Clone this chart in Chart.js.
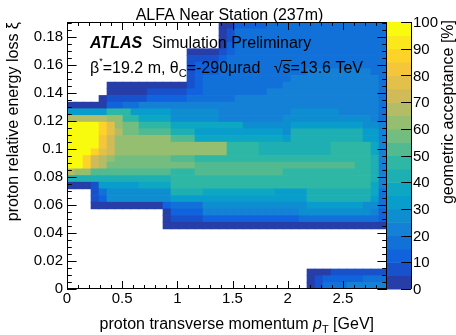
<!DOCTYPE html>
<html>
<head>
<meta charset="utf-8">
<title>ALFA Near Station acceptance</title>
<script src="https://cdn.jsdelivr.net/npm/chart.js@4.4.0/dist/chart.umd.min.js"></script>
<style>
  html, body { margin: 0; padding: 0; background: #fff; }
</style>
</head>
<body>
<canvas id="myChart" width="456" height="335"></canvas>
<script>
const FONT = '"Liberation Sans", Arial, Helvetica, sans-serif';

// Binning: 40 pT bins of 0.0725 GeV (0 - 2.9 GeV), xi bins of 0.2/42 (40 shown)
const ptBinWidth = 0.0725;
const xiBinWidth = 0.2 / 42;
const ptTicks = [0, 0.5, 1, 1.5, 2, 2.5];
const xiTicks = [0, 0.02, 0.04, 0.06, 0.08, 0.1, 0.12, 0.14, 0.16, 0.18];
const zTicks = [0, 10, 20, 30, 40, 50, 60, 70, 80, 90, 100];

// Geometric acceptance [%] per cell, top row (highest xi) first, E = empty bin
const E = null;
const acceptance = [
  [E,E,E,E,E,E,E,E,E,E,E,E,E,E,E,E,E,E,E, 2, 2,12,12,12,12,17,17,17,17,17,17,17,17,17,17,17,17,17,17,17],
  [E,E,E,E,E,E,E,E,E,E,E,E,E,E,E,E,E,E,E, 2, 7,17,17,17,17,17,17,17,17,17,17,17,17,17,17,17,17,17,17,17],
  [E,E,E,E,E,E,E,E,E,E,E,E,E,E,E,E,E,E,E, 2, 7,17,17,17,17,17,17,17,17,17,17,17,17,17,17,17,17,17,17,17],
  [E,E,E,E,E,E,E,E,E,E,E,E,E,E,E,E,E,E,E, 2,12,17,17,17,17,17,17,17,17,17,17,17,17,17,17,17,17,17,17,17],
  [E,E,E,E,E,E,E,E,E,E,E,E,E,E,E, 2, 2, 2, 2, 7,12,17,17,17,17,17,17,17,17,17,17,17,17,17,17,17,17,17,17,17],
  [E,E,E,E,E,E,E,E,E,E,E,E,E,E,E, 7, 7, 7, 7,12,17,17,17,17,17,17,17,17,17,17,17,17,17,17,17,17,17,17,17,17],
  [E,E,E,E,E,E,E,E,E,E,E,E,E,E,E, 7,12,12,12,17,17,17,17,17,17,17,17,17,17,17,17,17,17,17,17,17,17,17,17,17],
  [E,E,E,E,E,E,E,E,E,E,E,E,E,E,E, 7,12,12,12,17,17,17,17,17,17,17,17,17,17,17,22,22,22,22,22,22,22,22,17,17],
  [E,E,E,E,E,E,E,E,E,E,E,E,E,E,E, 7,12,17,17,17,17,17,17,17,17,17,17,17,22,22,22,22,22,22,22,22,22,22,22,17],
  [E,E,E,E,E, 2, 2, 2, 2, 2, 2, 2, 2, 2, 2, 7,12,17,17,17,17,17,17,17,17,17,17,22,22,22,22,22,22,22,22,22,22,22,22,17],
  [E,E,E,E,E, 2, 2, 2, 2, 2, 7, 7, 7, 7, 7,12,12,17,17,17,17,17,17,17,17,22,22,22,22,22,22,22,22,22,22,22,22,22,22,17],
  [E,E,E,E, 2, 7, 7, 7, 7, 7,12,12,12,12,12,17,17,17,17,17,17,22,22,22,22,22,22,22,22,22,22,22,22,22,22,22,22,22,22,17],
  [ 2, 2, 2, 2, 2,12,12,17,17,22,22,22,22,22,22,22,22,22,22,22,22,22,22,22,22,22,22,22,22,22,22,22,22,22,22,22,22,22,22,17],
  [32,32,32,32,32,47,47,47,32,32,32,32,32,27,27,27,27,27,27,22,22,22,22,22,22,22,22,22,27,27,27,27,27,27,22,22,22,22,22,17],
  [67,67,67,67,67,62,62,47,47,37,37,37,37,27,27,27,27,27,27,22,22,22,22,22,22,22,22,27,27,27,27,27,27,27,27,27,27,27,22,17],
  [97,97,97,97,87,77,62,57,57,47,47,47,47,37,37,37,37,37,37,37,37,37,27,27,27,27,27,27,32,32,32,32,32,32,32,32,32,27,27,22],
  [97,97,97,97,87,77,67,57,57,52,52,52,52,42,42,42,32,32,32,32,32,32,32,32,32,32,32,27,42,42,42,42,42,42,42,42,42,32,32,22],
  [97,97,97,97,82,72,62,62,62,62,62,62,62,52,52,52,37,37,37,37,37,37,37,37,37,37,37,32,42,42,42,42,42,42,42,42,42,32,32,22],
  [97,97,97,97,82,72,62,62,62,62,62,62,62,62,62,62,62,62,62,62,47,47,47,47,42,42,42,42,42,42,42,42,42,47,47,47,47,47,37,22],
  [97,97,97,87,77,72,62,62,62,62,62,62,62,62,62,62,62,62,62,62,47,47,47,47,42,42,42,42,42,42,42,42,42,47,47,47,47,47,37,22],
  [97,97,87,72,67,62,57,57,57,57,57,57,57,52,52,52,47,47,47,47,47,47,47,47,47,47,47,47,47,47,47,47,47,47,47,47,47,47,42,22],
  [97,97,87,72,67,57,57,57,57,57,57,57,57,57,57,57,52,52,52,52,52,52,52,52,52,52,52,52,52,52,52,52,52,52,52,52,47,47,42,22],
  [67,62,62,52,52,52,52,52,52,52,52,52,52,47,47,47,52,52,52,52,52,52,52,52,52,52,52,47,47,47,47,47,47,47,47,47,47,47,42,22],
  [42,42,42,42,42,42,42,42,42,42,42,42,42,47,47,47,47,47,47,47,47,47,47,47,47,47,47,47,47,47,47,47,47,47,47,47,47,47,42,22],
  [ 2, 2, 2, 7,32,32,32,32,32,37,37,37,37,47,47,47,47,47,47,47,47,47,47,47,47,47,47,47,47,47,47,47,47,47,47,47,47,47,37,22],
  [E,E,E, 7,17,27,27,27,27,27,27,27,27,42,42,42,42,37,37,37,37,37,37,37,37,37,32,32,32,32,42,42,42,42,42,42,42,42,37,17],
  [E,E,E, 7,12,27,27,27,27,27,27,27,27,32,32,32,32,32,32,32,32,32,32,32,32,32,32,32,32,32,42,42,42,42,42,42,42,42,32,17],
  [E,E,E, 2, 2, 2, 2, 2, 2, 2, 2, 2,12,17,17,17,17,27,27,27,27,27,27,27,27,27,27,27,27,27,32,32,32,32,32,32,32,27,27,17],
  [E,E,E,E,E,E,E,E,E,E,E,E, 2,12,12,12,12,22,22,22,22,22,22,22,22,22,22,22,22,27,27,27,27,27,27,27,27,27,22,12],
  [E,E,E,E,E,E,E,E,E,E,E,E, 2, 7, 7, 7, 7,12,12,12,12,12,12,12,12,12,12,12,12,17,17,17,17,17,17,17,17,17,17,12],
  [E,E,E,E,E,E,E,E,E,E,E,E, 2, 2, 2, 2, 2, 2, 2, 2, 2, 2, 2, 2, 2, 2, 2, 2, 2, 2, 2, 2, 2, 2, 2, 2, 2, 2, 2, 2],
  [E,E,E,E,E,E,E,E,E,E,E,E,E,E,E,E,E,E,E,E,E,E,E,E,E,E,E,E,E,E,E,E,E,E,E,E,E,E,E,E],
  [E,E,E,E,E,E,E,E,E,E,E,E,E,E,E,E,E,E,E,E,E,E,E,E,E,E,E,E,E,E,E,E,E,E,E,E,E,E,E,E],
  [E,E,E,E,E,E,E,E,E,E,E,E,E,E,E,E,E,E,E,E,E,E,E,E,E,E,E,E,E,E,E,E,E,E,E,E,E,E,E,E],
  [E,E,E,E,E,E,E,E,E,E,E,E,E,E,E,E,E,E,E,E,E,E,E,E,E,E,E,E,E,E,E,E,E,E,E,E,E,E,E,E],
  [E,E,E,E,E,E,E,E,E,E,E,E,E,E,E,E,E,E,E,E,E,E,E,E,E,E,E,E,E,E,E,E,E,E,E,E,E,E,E,E],
  [E,E,E,E,E,E,E,E,E,E,E,E,E,E,E,E,E,E,E,E,E,E,E,E,E,E,E,E,E,E,E,E,E,E,E,E,E,E,E,E],
  [E,E,E,E,E,E,E,E,E,E,E,E,E,E,E,E,E,E,E,E,E,E,E,E,E,E,E,E,E,E, 2, 2, 2, 7, 7, 7, 7, 7, 7, 7],
  [E,E,E,E,E,E,E,E,E,E,E,E,E,E,E,E,E,E,E,E,E,E,E,E,E,E,E,E,E,E, 2, 7,12,12,12,12,12,17,17,17],
  [E,E,E,E,E,E,E,E,E,E,E,E,E,E,E,E,E,E,E,E,E,E,E,E,E,E,E,E,E,E, 2, 7,17,17,17,22,22,22,22,22]
];

// ROOT kBird palette, 20 contour levels
const birdStops = [0.0000, 0.1250, 0.2500, 0.3750, 0.5000, 0.6250, 0.7500, 0.8750, 1.0000];
const birdRed   = [0.2082, 0.0592, 0.0780, 0.0232, 0.1802, 0.5301, 0.8186, 0.9956, 0.9764];
const birdGreen = [0.1664, 0.3599, 0.5041, 0.6419, 0.7178, 0.7492, 0.7328, 0.7862, 0.9832];
const birdBlue  = [0.5293, 0.8684, 0.8385, 0.7914, 0.6425, 0.4662, 0.3499, 0.1968, 0.0539];
const nLevels = 20;

function birdColor(t) {
    let k = 1;
    while (k < birdStops.length - 1 && t > birdStops[k]) k++;
    const f = (t - birdStops[k - 1]) / (birdStops[k] - birdStops[k - 1]);
    const c = (arr) => Math.round(255 * (arr[k - 1] + f * (arr[k] - arr[k - 1])));
    return 'rgb(' + c(birdRed) + ',' + c(birdGreen) + ',' + c(birdBlue) + ')';
}
function levelColor(level) {
    const idx = Math.floor((level + 0.99) * 255 / nLevels);
    return birdColor(Math.min(idx, 254) / 254);
}
function valueColor(v) {
    const level = Math.max(0, Math.min(nLevels - 1, Math.floor(v / (100 / nLevels))));
    return levelColor(level);
}

// one floating-bar dataset per xi row
const rowsBottomUp = acceptance.slice().reverse();
const datasets = rowsBottomUp.map((row, r) => {
    const pts = [];
    const colors = [];
    row.forEach((v, c) => {
        if (v === null) return;
        pts.push({ x: (c + 0.5) * ptBinWidth, y: [r * xiBinWidth, (r + 1) * xiBinWidth], v: v });
        colors.push(valueColor(v));
    });
    return {
        label: 'xi bin ' + r,
        data: pts,
        backgroundColor: colors,
        borderWidth: 0,
        grouped: false,
        barPercentage: 1,
        categoryPercentage: 1
    };
});

const fmt = (v) => String(Math.round(v * 1000) / 1000);

function drawParts(ctx, parts, x0, base, align) {
    let total = 0;
    parts.forEach((p) => { ctx.font = p.f; p.w = ctx.measureText(p.t).width; total += p.w; });
    let cx = align === 'right' ? x0 - total : x0;
    ctx.textAlign = 'left';
    ctx.textBaseline = 'alphabetic';
    ctx.fillStyle = '#000';
    parts.forEach((p) => {
        ctx.font = p.f;
        ctx.fillText(p.t, cx, base + p.dy);
        if (p.over) {
            ctx.beginPath();
            ctx.lineWidth = 1;
            ctx.moveTo(cx - 1, base - 12.5);
            ctx.lineTo(cx + p.w + 1, base - 12.5);
            ctx.stroke();
        }
        cx += p.w;
    });
}

// Ticks inside the frame, colour bar and the texts drawn on top
const decorPlugin = {
    id: 'decor',
    afterDatasetsDraw(chart) {
        const { ctx, chartArea: a, scales: { x, y } } = chart;
        ctx.save();
        ctx.strokeStyle = '#000';
        ctx.lineWidth = 1;

        // frame
        ctx.strokeRect(Math.round(a.left) + 0.5, Math.round(a.top) + 0.5,
            Math.round(a.right - a.left) - 1, Math.round(a.bottom - a.top) - 1);

        ctx.beginPath();
        // x ticks (bottom and top)
        for (let t = 0; t <= 2.9 + 1e-9; t += 0.1) {
            const major = Math.abs(t / 0.5 - Math.round(t / 0.5)) < 1e-6;
            const len = major ? 8 : 4;
            const px = Math.round(x.getPixelForValue(t)) + 0.5;
            ctx.moveTo(px, a.bottom); ctx.lineTo(px, a.bottom - len);
            ctx.moveTo(px, a.top); ctx.lineTo(px, a.top + len);
        }
        // y ticks (left and right)
        for (let t = 0; t <= 0.19 + 1e-9; t += 0.005) {
            const major = Math.abs(t / 0.02 - Math.round(t / 0.02)) < 1e-6;
            const len = major ? 9.6 : 4.8;
            const py = Math.round(y.getPixelForValue(t)) + 0.5;
            ctx.moveTo(a.left, py); ctx.lineTo(a.left + len, py);
            ctx.moveTo(a.right, py); ctx.lineTo(a.right - len, py);
        }
        ctx.stroke();

        // colour bar
        const cbL = a.right, cbR = a.right + 24;
        const H = a.bottom - a.top;
        for (let i = 0; i < nLevels; i++) {
            const y0 = a.bottom - (i / nLevels) * H;
            const y1 = a.bottom - ((i + 1) / nLevels) * H;
            ctx.fillStyle = levelColor(i);
            ctx.fillRect(cbL, y1, cbR - cbL, y0 - y1 + 0.5);
        }
        ctx.beginPath();
        ctx.moveTo(cbR + 0.5, a.top); ctx.lineTo(cbR + 0.5, a.bottom);
        zTicks.forEach((z) => {
            const py = Math.round(a.bottom - (z / 100) * H) + 0.5;
            ctx.moveTo(cbR, py); ctx.lineTo(cbR - 10, py);
        });
        ctx.stroke();
        ctx.fillStyle = '#000';
        ctx.font = '15px ' + FONT;
        ctx.textAlign = 'left';
        ctx.textBaseline = 'middle';
        zTicks.forEach((z) => {
            ctx.fillText(String(z), cbR + 2, a.bottom - (z / 100) * H + 1);
        });
        // colour bar title
        ctx.save();
        ctx.translate(449, a.top - 2);
        ctx.rotate(-Math.PI / 2);
        ctx.textAlign = 'right';
        ctx.font = '16px ' + FONT;
        ctx.fillText('geometric acceptance [%]', 0, 0);
        ctx.restore();

        // histogram title
        ctx.textAlign = 'center';
        ctx.textBaseline = 'alphabetic';
        ctx.font = '16px ' + FONT;
        ctx.fillText('ALFA Near Station (237m)', 229.5, 20);

        // x axis title with p_T
        const parts = [
            { t: 'proton transverse momentum ', f: '16px ' + FONT, dy: 0 },
            { t: 'p', f: 'italic 16px ' + FONT, dy: 0 },
            { t: 'T', f: '11px ' + FONT, dy: 4 },
            { t: ' [GeV]', f: '16px ' + FONT, dy: 0 }
        ];
        drawParts(ctx, parts, 374, 329, 'right');

        // ATLAS label
        ctx.textAlign = 'left';
        ctx.font = 'italic bold 16px ' + FONT;
        ctx.fillText('ATLAS', 90, 48);
        ctx.font = '16px ' + FONT;
        ctx.fillText('Simulation Preliminary', 152, 48);

        const line2 = [
            { t: 'β', f: '16px ' + FONT, dy: 0 },
            { t: '*', f: '9px ' + FONT, dy: -9 },
            { t: '=19.2 m, θ', f: '16px ' + FONT, dy: 0 },
            { t: 'C', f: '11px ' + FONT, dy: 4 },
            { t: '=-290μrad   ', f: '16px ' + FONT, dy: 0 },
            { t: '√', f: '16px ' + FONT, dy: 0 },
            { t: 's', f: '16px ' + FONT, dy: 0, over: true },
            { t: '=13.6 TeV', f: '16px ' + FONT, dy: 0 }
        ];
        drawParts(ctx, line2, 90, 73, 'left');
        ctx.restore();
    }
};

const config = {
    type: 'bar',
    data: { datasets: datasets },
    options: {
        responsive: false,
        devicePixelRatio: 1,
        animation: false,
        events: [],
        layout: { padding: { left: 0, right: 69, top: 22, bottom: 0 } },
        datasets: { bar: { grouped: false } },
        plugins: {
            legend: { display: false },
            tooltip: { enabled: false },
            title: { display: false }
        },
        scales: {
            x: {
                type: 'linear',
                min: 0,
                max: 2.9,
                offset: false,
                grid: { display: false, drawTicks: false },
                border: { display: false },
                ticks: {
                    stepSize: 0.5,
                    includeBounds: false,
                    padding: 1,
                    maxRotation: 0,
                    autoSkip: false,
                    color: '#000',
                    font: { family: FONT, size: 15 },
                    callback: (v) => ptTicks.some((t) => Math.abs(t - v) < 1e-6) ? fmt(v) : null
                },
                afterFit: (s) => { s.height = 46; }
            },
            y: {
                type: 'linear',
                min: 0,
                max: 40 * xiBinWidth,
                grid: { display: false, drawTicks: false },
                border: { display: false },
                ticks: {
                    stepSize: 0.02,
                    includeBounds: false,
                    padding: 4,
                    autoSkip: false,
                    color: '#000',
                    font: { family: FONT, size: 15 },
                    callback: (v) => xiTicks.some((t) => Math.abs(t - v) < 1e-6) ? fmt(v) : null
                },
                title: {
                    display: true,
                    text: 'proton relative energy loss ξ',
                    align: 'end',
                    color: '#000',
                    font: { family: FONT, size: 16 },
                    padding: { top: 4, bottom: 0 }
                },
                afterFit: (s) => { s.width = 67; }
            }
        }
    },
    plugins: [decorPlugin]
};

const myChart = new Chart(document.getElementById('myChart'), config);
</script>
</body>
</html>
